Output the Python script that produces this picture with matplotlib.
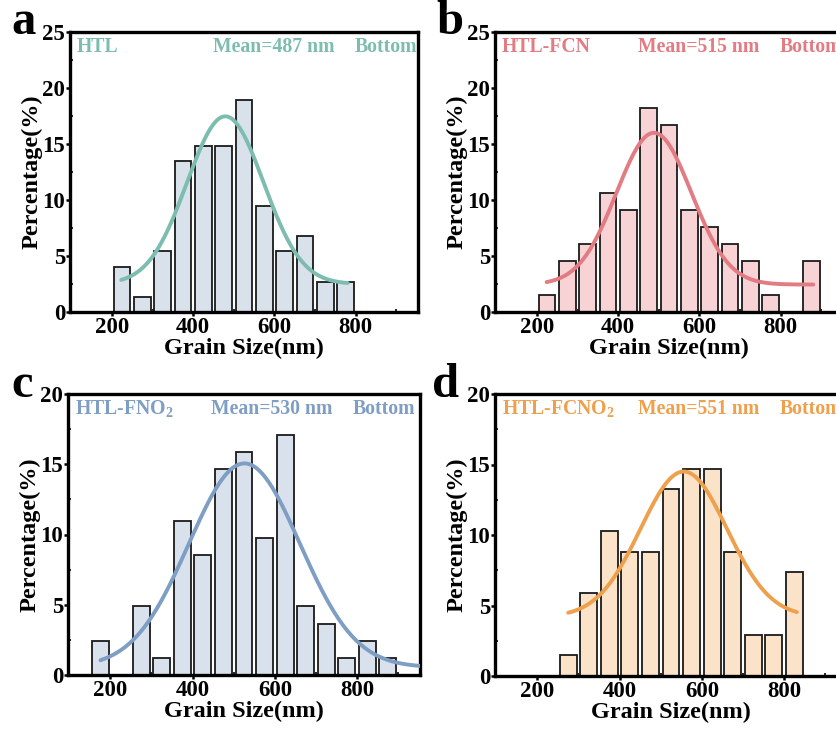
import matplotlib
matplotlib.use("Agg")
import matplotlib.pyplot as plt
import numpy as np
from matplotlib.ticker import MultipleLocator

plt.rcParams['font.family'] = ['Liberation Serif', 'DejaVu Serif']
plt.rcParams['font.weight'] = 'bold'
plt.rcParams['mathtext.fontset'] = 'custom'
plt.rcParams['mathtext.rm'] = 'Liberation Serif:bold'
plt.rcParams['mathtext.bf'] = 'Liberation Serif:bold'
plt.rcParams['mathtext.it'] = 'Liberation Serif:bold'
plt.rcParams['mathtext.default'] = 'bf'

# ---- data (bin centres in nm, percentages) ----
bins_a = [225, 275, 325, 375, 425, 475, 525, 575, 625, 675, 725, 775]
pct_a = [4.05, 1.35, 5.41, 13.51, 14.86, 14.86, 18.92, 9.46, 5.41, 6.76, 2.70, 2.70]

bins_b = [225, 275, 325, 375, 425, 475, 525, 575, 625, 675, 725, 775, 875]
pct_b = [1.52, 4.55, 6.06, 10.61, 9.09, 18.18, 16.67, 9.09, 7.58, 6.06, 4.55, 1.52, 4.55]

bins_c = [175, 275, 325, 375, 425, 475, 525, 575, 625, 675, 725, 775, 825, 875]
pct_c = [2.44, 4.88, 1.22, 10.98, 8.54, 14.63, 15.85, 9.76, 17.07, 4.88, 3.66, 1.22, 2.44, 1.22]

bins_d = [275, 325, 375, 425, 475, 525, 575, 625, 675, 725, 775, 825]
pct_d = [1.47, 5.88, 10.29, 8.82, 8.82, 13.24, 14.71, 14.71, 8.82, 2.94, 2.94, 7.35]

# Gaussian fit parameters: (centre, sigma, baseline, peak, x_start, x_end)
fit_a = (479, 94, 2.5, 17.47, 223, 780)
fit_b = (488, 92, 2.45, 16.0, 224, 880)
fit_c = (526, 135, 0.55, 15.06, 176, 960)
fit_d = (556, 105, 4.2, 14.5, 275, 831)

labels = ['HTL', 'HTL-FCN', 'HTL-FNO$_2$', 'HTL-FCNO$_2$']
means = ['Mean=487 nm', 'Mean=515 nm', 'Mean=530 nm', 'Mean=551 nm']
letters = ['a', 'b', 'c', 'd']
line_colors = ['#7dbdaf', '#e27b82', '#7f9ec4', '#efa04c']
bar_colors = ['#d9e1ea', '#f8d3d6', '#d9e2ec', '#fbe3c9']
ylims = [25, 25, 20, 20]

W, H = 837, 729
fig = plt.figure(figsize=(W / 100, H / 100), dpi=100)

# axes boxes in pixels: left, top, right, bottom
boxes = [(70, 32, 418, 312), (495, 32, 843, 312), (68, 394, 420, 675), (495, 394, 847, 676)]
letter_pos = [(11, 34), (436, 34), (11, 397), (432, 397)]

datasets = [(bins_a, pct_a, fit_a), (bins_b, pct_b, fit_b), (bins_c, pct_c, fit_c), (bins_d, pct_d, fit_d)]

for i, (bins, pct, fit) in enumerate(datasets):
    l, t, r, b = boxes[i]
    ax = fig.add_axes([l / W, (H - b) / H, (r - l) / W, (b - t) / H])
    ax.bar(bins, pct, width=41, color=bar_colors[i], edgecolor='#1a1a1a', linewidth=1.3, zorder=2)
    xc, s, y0, pk, xs, xe = fit
    xx = np.linspace(xs, xe, 300)
    yy = y0 + (pk - y0) * np.exp(-0.5 * ((xx - xc) / s) ** 2)
    ax.plot(xx, yy, color=line_colors[i], lw=2.8, zorder=3, solid_capstyle='round')
    ax.set_xlim(97, 953)
    ax.set_ylim(0, ylims[i])
    ax.xaxis.set_major_locator(MultipleLocator(200))
    ax.xaxis.set_minor_locator(MultipleLocator(100))
    ax.yaxis.set_major_locator(MultipleLocator(5))
    ax.yaxis.set_minor_locator(MultipleLocator(2.5))
    ax.tick_params(which='major', direction='out', length=3, width=1.8, labelsize=16.5, pad=0.5)
    ax.tick_params(which='minor', direction='in', length=2.5, width=1.2)
    ax.tick_params(top=False, right=False)
    for sp in ['left', 'bottom', 'top', 'right']:
        ax.spines[sp].set_linewidth(2.4)
    for lab in ax.get_xticklabels() + ax.get_yticklabels():
        lab.set_fontweight('bold')
    ax.set_xlabel('Grain Size(nm)', fontsize=17.5, fontweight='bold', labelpad=0)
    ax.set_ylabel('Percentage(%)', fontsize=17.5, fontweight='bold', labelpad=0)
    wpx = r - l
    hpx = b - t
    ytxt = 1 - 20 / hpx
    ax.text(7 / wpx, ytxt, labels[i], transform=ax.transAxes, color=line_colors[i],
            fontsize=14.2, fontweight='bold', va='baseline', ha='left')
    ax.text(143 / wpx, ytxt, means[i], transform=ax.transAxes, color=line_colors[i],
            fontsize=14.2, fontweight='bold', va='baseline', ha='left')
    ax.text(285 / wpx, ytxt, 'Bottom', transform=ax.transAxes, color=line_colors[i],
            fontsize=14.2, fontweight='bold', va='baseline', ha='left')
    lx, ly = letter_pos[i]
    fig.text(lx / W, (H - ly) / H, letters[i], fontsize=35, fontweight='bold', ha='left', va='baseline')

fig.savefig('out.png', dpi=100)
